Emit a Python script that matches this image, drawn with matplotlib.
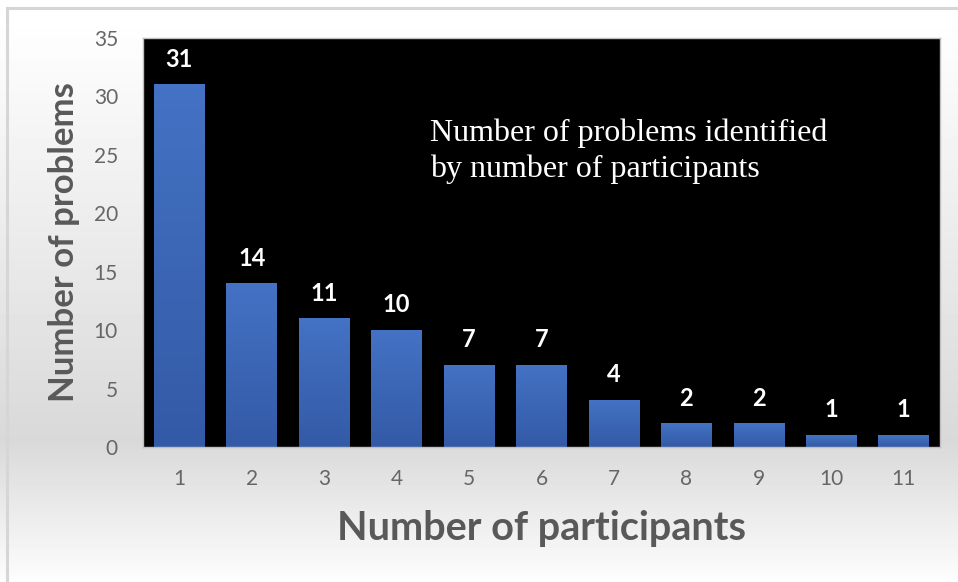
import numpy as np
import matplotlib.pyplot as plt
from matplotlib.colors import LinearSegmentedColormap

# participants who found a problem -> how many problems
participants = [1, 2, 3, 4, 5, 6, 7, 8, 9, 10, 11]
problems = [31, 14, 11, 10, 7, 7, 4, 2, 2, 1, 1]
yticks = [0, 5, 10, 15, 20, 25, 30, 35]

W, H = 958, 582
fig = plt.figure(figsize=(W / 100, H / 100), dpi=100)

# background: white at the top, grey behind the axis, fading back to white
bg = fig.add_axes([0, 0, 1, 1], zorder=0)
rows = np.arange(H)
shade = np.interp(rows, [0, 15, 440, 575, H], [1.0, 1.0, 0.85, 0.985, 1.0])
bg.imshow(np.tile(shade[:, None], (1, 2)), cmap='gray', vmin=0, vmax=1,
          aspect='auto', extent=[0, W, H, 0])
bg.plot([7, 7], [8, H], color='#d6d6d6', lw=2.2)
bg.plot([7, W], [8, 8], color='#d6d6d6', lw=2.2)
bg.set_xlim(0, W)
bg.set_ylim(H, 0)
bg.axis('off')

ax = fig.add_axes([143 / W, 1 - 447 / H, 797 / W, 409 / H], zorder=1)
ax.set_facecolor('black')

bars = ax.bar(participants, problems, width=0.7, color='none', zorder=2)
bar_cmap = LinearSegmentedColormap.from_list('bar', ['#335aa6', '#4472c4'])
grad = np.linspace(0, 1, 100)[:, None]
for b, v in zip(bars, problems):
    x0 = b.get_x()
    ax.imshow(grad, cmap=bar_cmap, aspect='auto', origin='lower',
              extent=[x0, x0 + b.get_width(), 0, v], zorder=2)
    ax.annotate(str(v), (b.get_x() + b.get_width() / 2, v), xytext=(0, 10),
                textcoords='offset points', ha='center', va='bottom',
                color='white', fontsize=17, fontweight='bold', family='Lato')

ax.set_xlim(0.5, 11.5)
ax.set_ylim(0, 35)
ax.set_xticks(participants)
ax.set_yticks(yticks)
ax.tick_params(length=0, labelsize=15, labelcolor='#666666')
ax.tick_params(axis='x', pad=16)
ax.tick_params(axis='y', pad=18)
for lbl in ax.get_xticklabels() + ax.get_yticklabels():
    lbl.set_family('Lato')
for s in ax.spines.values():
    s.set_color('#bfbfbf')
    s.set_linewidth(1)

ax.set_xlabel('Number of participants', fontsize=28.5, fontweight='bold',
              color='#595959', family='Lato', labelpad=15)
ax.set_ylabel('Number of problems', fontsize=25, fontweight='bold',
              color='#595959', family='Lato', labelpad=10)

fig.text(430 / W, 1 - 119 / H,
         'Number of problems identified\nby number of participants',
         color='white', fontsize=23, family='Liberation Serif',
         ha='left', va='top', linespacing=1.25, zorder=3)

fig.savefig('out.png', dpi=100)
